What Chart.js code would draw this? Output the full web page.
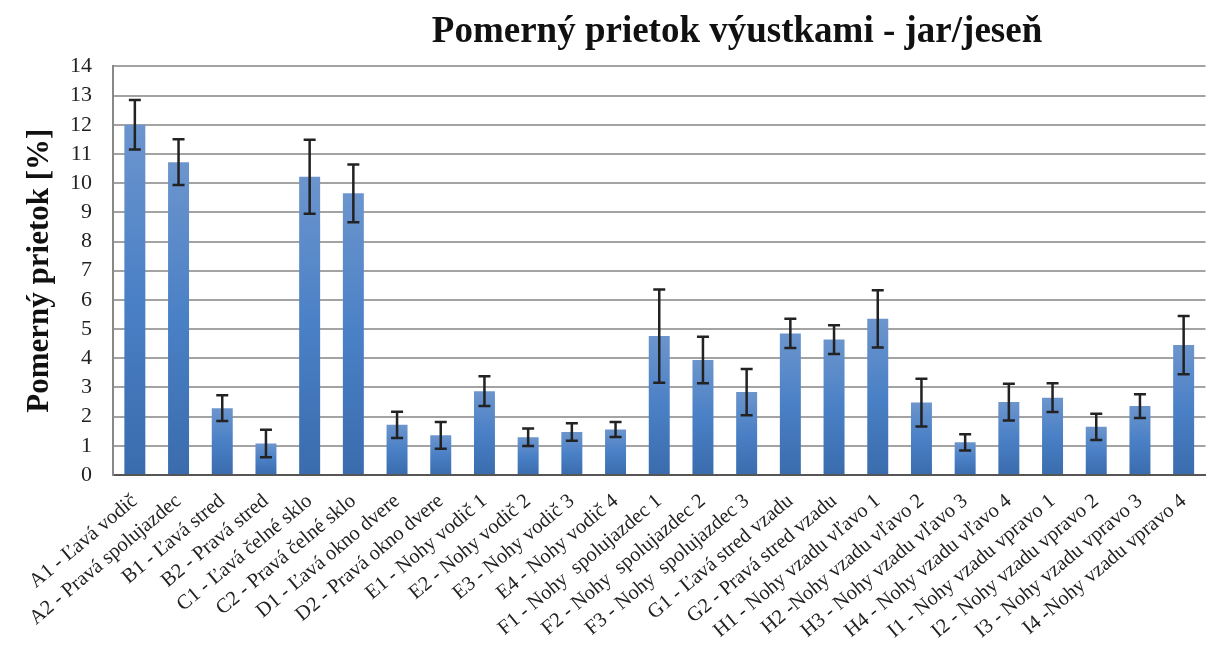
<!DOCTYPE html>
<html>
<head>
<meta charset="utf-8">
<script src="https://cdn.jsdelivr.net/npm/chart.js@4/dist/chart.umd.min.js"></script>
<style>
  body { margin: 0; background: #fff; overflow: hidden; }
  #wrap { width: 1474px; height: 648px; }
</style>
</head>
<body>
<div id="wrap"><canvas id="chart" width="1474" height="648"></canvas></div>
<script>
// data
const labels = [
  'A1 - Ľavá vodič', 'A2 - Pravá spolujazdec', 'B1 - Ľavá stred', 'B2 - Pravá stred',
  'C1 - Ľavá čelné sklo', 'C2 - Pravá čelné sklo', 'D1 - Ľavá okno dvere', 'D2 - Pravá okno dvere',
  'E1 - Nohy vodič 1', 'E2 - Nohy vodič 2', 'E3 - Nohy vodič 3', 'E4 - Nohy vodič 4',
  'F1 - Nohy  spolujazdec 1', 'F2 - Nohy  spolujazdec 2', 'F3 - Nohy  spolujazdec 3',
  'G1 - Ľavá stred vzadu', 'G2 - Pravá stred vzadu',
  'H1 - Nohy vzadu vľavo 1', 'H2 -Nohy vzadu vľavo 2', 'H3 - Nohy vzadu vľavo 3', 'H4 - Nohy vzadu vľavo 4',
  'I1 - Nohy vzadu vpravo 1', 'I2 - Nohy vzadu vpravo 2', 'I3 - Nohy vzadu vpravo 3', 'I4 -Nohy vzadu vpravo 4'
]
const values = [12.0, 10.72, 2.29, 1.08, 10.22, 9.65, 1.72, 1.36, 2.87, 1.29, 1.47, 1.56,
  4.76, 3.94, 2.84, 4.85, 4.64, 5.35, 2.48, 1.12, 2.5, 2.65, 1.65, 2.36, 4.45]
const errors = [0.85, 0.78, 0.44, 0.47, 1.27, 0.99, 0.45, 0.46, 0.51, 0.3, 0.3, 0.26,
  1.6, 0.8, 0.79, 0.5, 0.49, 0.98, 0.82, 0.28, 0.63, 0.49, 0.45, 0.41, 1.0]

const serif = "'Liberation Serif', 'Times New Roman', serif"

// per-bar vertical gradient, lighter on top
function barFill(ctx) {
  const chart = ctx.chart
  const area = chart.chartArea
  if (!area || ctx.dataIndex === undefined) return '#4f81bd'
  const top = chart.scales.y.getPixelForValue(values[ctx.dataIndex])
  const g = chart.ctx.createLinearGradient(0, top, 0, area.bottom)
  g.addColorStop(0, '#6c95cd')
  g.addColorStop(0.5, '#4a80c6')
  g.addColorStop(1, '#3a6cad')
  return g
}

// error bars drawn through the scales
const errorBars = {
  id: 'errorBars',
  afterDatasetsDraw(chart) {
    const c = chart.ctx
    const y = chart.scales.y
    const meta = chart.getDatasetMeta(0)
    c.save()
    c.strokeStyle = '#222'
    c.lineWidth = 2.5
    meta.data.forEach((bar, i) => {
      const hi = y.getPixelForValue(values[i] + errors[i])
      const lo = y.getPixelForValue(values[i] - errors[i])
      const x = bar.x
      c.beginPath()
      c.moveTo(x, hi); c.lineTo(x, lo)
      c.moveTo(x - 6, hi); c.lineTo(x + 6, hi)
      c.moveTo(x - 6, lo); c.lineTo(x + 6, lo)
      c.stroke()
    })
    c.restore()
  }
}

new Chart(document.getElementById('chart'), {
  type: 'bar',
  data: {
    labels: labels,
    datasets: [{
      label: 'Pomerný prietok',
      data: values,
      backgroundColor: barFill,
      categoryPercentage: 1,
      barPercentage: 0.48
    }]
  },
  options: {
    responsive: false,
    animation: false,
    devicePixelRatio: 1,
    layout: { padding: 0 },
    plugins: {
      legend: { display: false },
      tooltip: { enabled: false },
      title: {
        display: true,
        text: 'Pomerný prietok výustkami - jar/jeseň',
        color: '#111',
        font: { family: serif, size: 37, weight: 'bold' },
        padding: { top: 10, bottom: 12 }
      }
    },
    scales: {
      x: {
        grid: { display: false },
        border: { color: '#555', width: 2 },
        afterFit: s => { s.height = 173 },
        ticks: {
          autoSkip: false,
          minRotation: 40,
          maxRotation: 40,
          color: '#222',
          padding: 6,
          font: { family: serif, size: 20.5 }
        }
      },
      y: {
        min: 0,
        max: 14,
        afterFit: s => { s.width = 113 },
        ticks: {
          stepSize: 1,
          autoSkip: false,
          color: '#222',
          padding: 21,
          font: { family: serif, size: 22 }
        },
        grid: { color: '#a3a3a3', lineWidth: 2, drawTicks: false },
        border: { color: '#888', width: 2 },
        title: {
          display: true,
          text: 'Pomerný prietok [%]',
          color: '#111',
          font: { family: serif, size: 31, weight: 'bold' },
          padding: { top: 21, bottom: 0 }
        }
      },
      // empty space right of the plot, where the original picture was cut off
      yRight: {
        position: 'right',
        grid: { display: false },
        border: { display: false },
        ticks: { display: false },
        afterFit: s => { s.width = 1474 - 1205.5 }
      }
    }
  },
  plugins: [errorBars]
})
</script>
</body>
</html>
